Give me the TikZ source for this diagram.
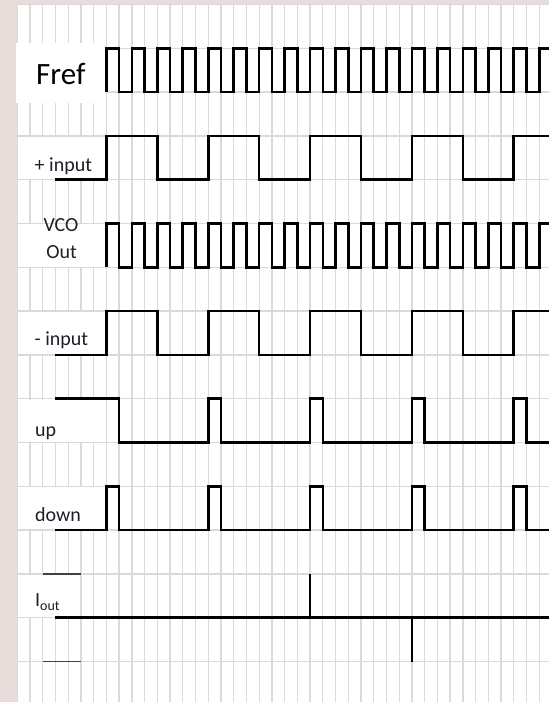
\documentclass[tikz,border=0pt]{standalone}
\usepackage{fontspec}
\setmainfont{Carlito}
\definecolor{gridc}{HTML}{DADADA}
\definecolor{bgc}{HTML}{E8DDDB}
\definecolor{txtc}{HTML}{1E1E28}
\definecolor{shortc}{HTML}{404040}
\begin{document}
\begin{tikzpicture}[x=1pt,y=-1pt,
  wave/.style={line width=2.6pt, black, line join=miter},
  gridline/.style={gridc, line width=1.3pt},
  shortline/.style={shortc, line width=1.3pt},
  lbl/.style={inner sep=0pt, anchor=base west, text=txtc, font=\fontsize{20}{20}\selectfont},
  bigl/.style={inner sep=0pt, anchor=base west, text=black, font=\fontsize{31}{31}\selectfont}]
\useasboundingbox (0,0) rectangle (549,702);
\begin{scope}
\clip (0,0) rectangle (549,702);
\fill[bgc] (0,0) rectangle (549,702);
\fill[white] (17.3,4.5) rectangle (549,702);
% grid
\foreach \k in {0,...,41} \draw[gridline] ({17.3+12.73*\k},4.5) -- ({17.3+12.73*\k},702);
\foreach \r in {0,...,15} \draw[gridline] (17.3,{4.5+43.8*\r}) -- (549,{4.5+43.8*\r});
% merged label cells
\foreach \r/\kk in {3/7,5/7,7/7,9/7,11/7,13/5}
  \fill[white] ({17.3+0.8},{4.5+43.8*\r+0.8}) rectangle ({17.3+12.73*\kk-0.8},{4.5+43.8*(\r+1)-0.8});
% Fref text box
\fill[white] (15.5,43) rectangle (106,103);
% waveforms
\begin{scope}[x=12.73pt, y=-43.8pt, shift={(17.3pt,-4.5pt)}]
  % Fref
  \draw[wave] (7,2) \foreach \i in {7,9,...,39} { -- (\i,1) -- ({\i+1},1) -- ({\i+1},2) -- ({\i+2},2) } -- (41,1) -- (43,1);
  % + input
  \draw[wave] (3,4) -- (7,4) -- (7,3) -- (11,3) -- (11,4) -- (15,4) -- (15,3) -- (19,3) -- (19,4) -- (23,4) -- (23,3) -- (27,3) -- (27,4) -- (31,4) -- (31,3) -- (35,3) -- (35,4) -- (39,4) -- (39,3) -- (43,3);
  % VCO out
  \draw[wave] (7,6) \foreach \i in {7,9,...,39} { -- (\i,5) -- ({\i+1},5) -- ({\i+1},6) -- ({\i+2},6) } -- (41,5) -- (43,5);
  % - input
  \draw[wave] (3,8) -- (7,8) -- (7,7) -- (11,7) -- (11,8) -- (15,8) -- (15,7) -- (19,7) -- (19,8) -- (23,8) -- (23,7) -- (27,7) -- (27,8) -- (31,8) -- (31,7) -- (35,7) -- (35,8) -- (39,8) -- (39,7) -- (43,7);
  % up
  \draw[wave] (3,9) -- (8,9) -- (8,10) \foreach \i in {15,23,31,39} { -- (\i,10) -- (\i,9) -- ({\i+1},9) -- ({\i+1},10) } -- (43,10);
  % down
  \draw[wave] (3,12) \foreach \i in {7,15,23,31,39} { -- (\i,12) -- (\i,11) -- ({\i+1},11) -- ({\i+1},12) } -- (43,12);
  % Iout
  \draw[wave] (3,14) -- (43,14);
  \draw[wave] (23,14) -- (23,13);
  \draw[wave] (31,14) -- (31,15);
  \draw[shortline] (2,13) -- (5,13);
  \draw[shortline] (2,15) -- (5,15);
\end{scope}
\end{scope}
% labels
\node[bigl] (fref) at (36,84) {Fref};
\node[lbl] (pin) at (34.5,171.7) {+ input};
\node[lbl, anchor=base] (vco) at (61,231) {VCO};
\node[lbl, anchor=base] (vcoout) at (61.7,258.3) {Out};
\node[lbl] (min) at (34.5,345.7) {- input};
\node[lbl] (up) at (35,436) {up};
\node[lbl] (down) at (35,521.7) {down};
\node[lbl] (iout) at (35,606.5) {I\raisebox{-3.5pt}{\fontsize{14}{14}\selectfont out}};
\end{tikzpicture}
\end{document}
